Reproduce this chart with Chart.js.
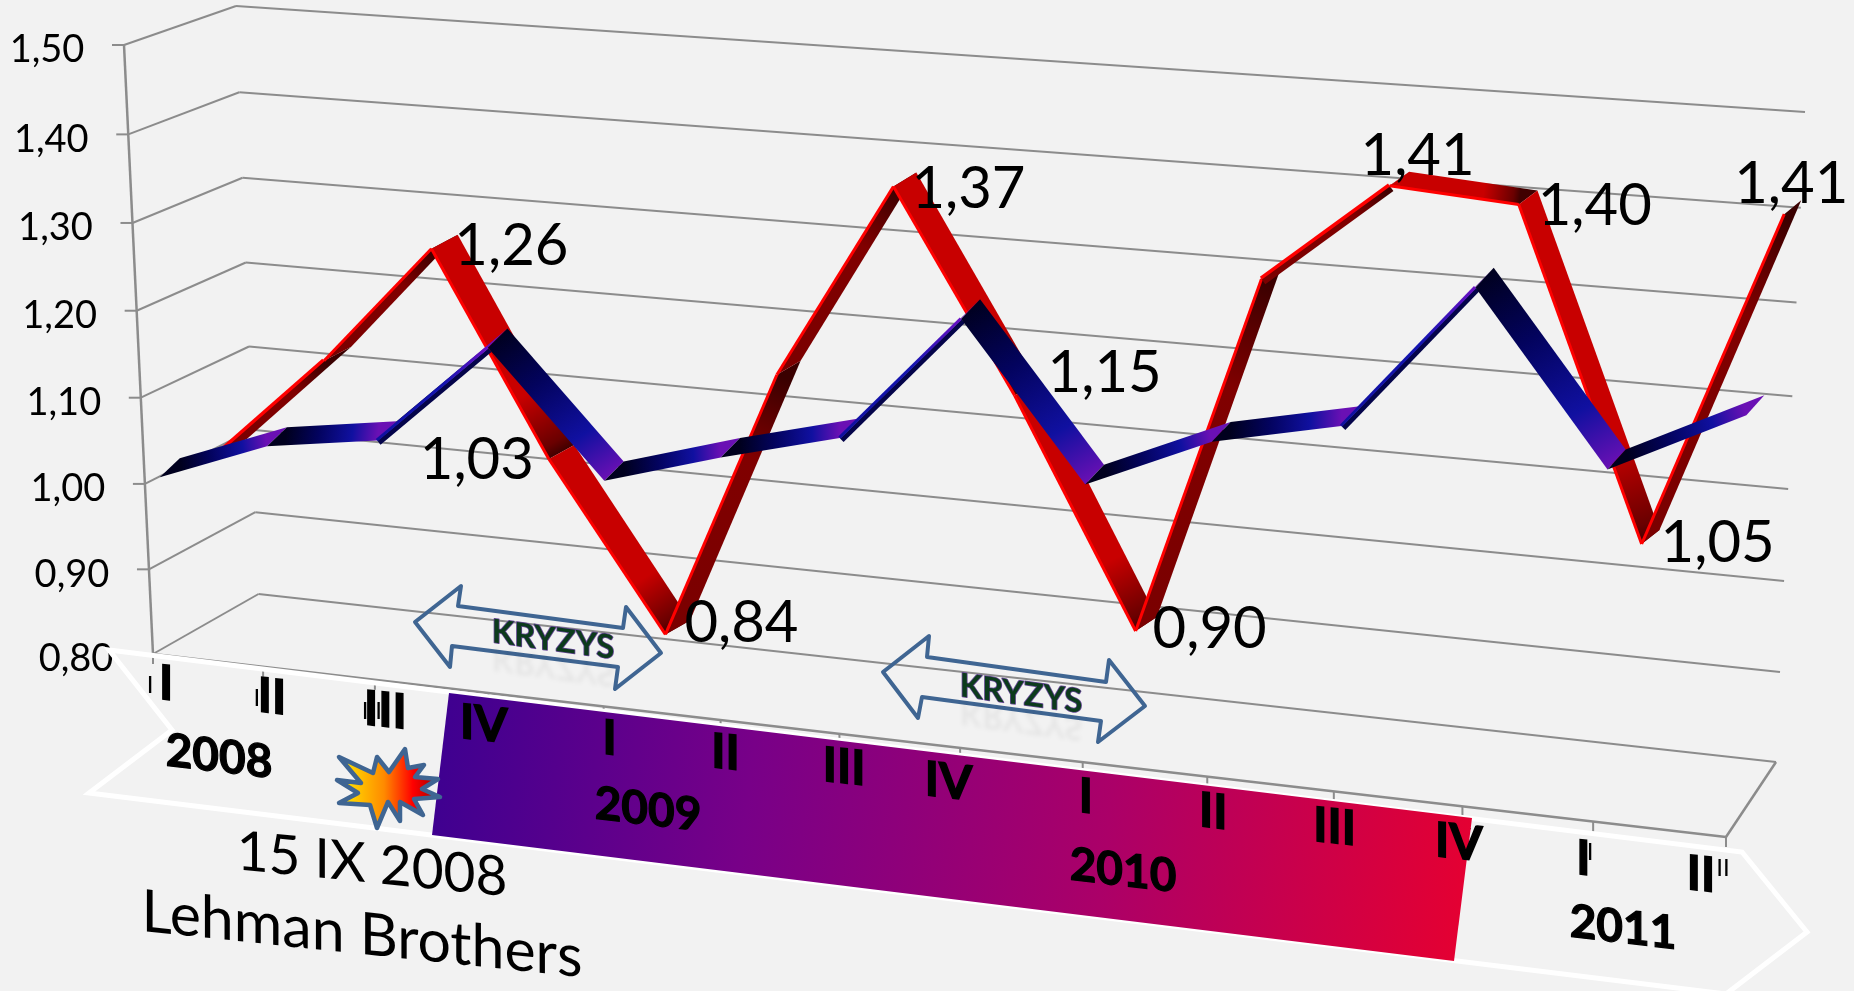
<!DOCTYPE html>
<html>
<head>
<meta charset="utf-8">
<title>Kryzys</title>
<script src="https://cdn.jsdelivr.net/npm/chart.js@4"></script>
<style>
  html, body { margin: 0; padding: 0; background: #f2f2f2; overflow: hidden; }
  canvas { display: block; }
</style>
</head>
<body>
<canvas id="kryzys" width="1854" height="991"></canvas>
<script>
const quarters = ['I','II','III','IV','I','II','III','IV','I','II','III','IV','I','II'];
const years = ['2008','2009','2010','2011'];
const yTicks = ['0,80','0,90','1,00','1,10','1,20','1,30','1,40','1,50'];
const redValues = [1.00,1.12,1.26,1.03,0.84,1.15,1.37,1.15,0.90,1.30,1.41,1.40,1.05,1.41];
const blueValues = [1.00,1.05,1.07,1.19,1.05,1.09,1.125,1.27,1.10,1.16,1.19,1.35,1.17,1.24];
const redLabels = [null,null,'1,26','1,03','0,84',null,'1,37','1,15','0,90',null,'1,41','1,40','1,05','1,41'];

// offsets of the data labels from their point
const labelOffsets = {2:[80,-2],3:[-72,1],4:[76,-11],6:[75,3],7:[90,-22],8:[74,-2],10:[28,-30],11:[76,2],12:[76,-1],13:[7,-30]};
const quarterNudge = [-4,-5,0,-12,2,4,7,-6,12,18,16,15,12,0];
const yearPos = [[219,757],[648,810],[1123,871],[1623,928]];

// perspective planes, [bottom-left, bottom-right, top-right, top-left]
const backWall = [[258.5,594],[1776,762],[1805,112],[236,6]];
const frontWall = [[153,654],[1726,837],[1750,167],[124,45]];
const redPlane = [[225,621],[1766,788],[1787,127],[203,22]];
const bluePlane = [[164,644],[1737,832],[1752,164],[149,53]];
const redDepth = [[28,-14],[17,-14]];
const blueDepth = [[20,-19],[18,-20]];

const quadMap = (q) => {
    const [[x0,y0],[x1,y1],[x2,y2],[x3,y3]] = q;
    const dx1 = x1-x2, dx2 = x3-x2, sx = x0-x1+x2-x3;
    const dy1 = y1-y2, dy2 = y3-y2, sy = y0-y1+y2-y3;
    const den = dx1*dy2-dx2*dy1;
    const g = (sx*dy2-dx2*sy)/den, h = (dx1*sy-sx*dy1)/den;
    const a = x1-x0+g*x1, b = x3-x0+h*x3, d = y1-y0+g*y1, e = y3-y0+h*y3;
    return (s,t) => {
        const k = g*s+h*t+1;
        return [(a*s+b*t+x0)/k, (d*s+e*t+y0)/k];
    };
};

const line = (ctx, a, b, color, width) => {
    ctx.strokeStyle = color;
    ctx.lineWidth = width;
    ctx.beginPath();
    ctx.moveTo(a[0],a[1]);
    ctx.lineTo(b[0],b[1]);
    ctx.stroke();
};

const poly = (ctx, pts) => {
    ctx.beginPath();
    pts.forEach((p,i) => i ? ctx.lineTo(p[0],p[1]) : ctx.moveTo(p[0],p[1]));
    ctx.closePath();
};

const shearText = (ctx, text, x, y, font, slope, heavy) => {
    ctx.save();
    ctx.transform(1, slope, 0, 1, x, y);
    ctx.font = font;
    ctx.fillStyle = '#000';
    ctx.textAlign = 'center';
    ctx.textBaseline = 'middle';
    ctx.fillText(text, 0, 0);
    if (heavy) {
        ctx.strokeStyle = '#000';
        ctx.lineWidth = heavy;
        ctx.strokeText(text, 0, 0);
    }
    ctx.restore();
};

const doubleArrow1 = [[415,622],[461,586],[458,606],[623,628],[626,607],[661,653],[615,689],[618,667],[452,646],[450,667]];
const doubleArrow2 = [[883,672],[929,636],[927,657],[1106,682],[1109,660],[1145,706],[1098,742],[1101,721],[922,697],[918,718]];
const star = [[339,757],[373,773],[377,757],[389,772],[405,749],[408,768],[424,765],[415,777],[438,779],[422,789],[440,797],[414,799],[423,815],[400,802],[400,821],[388,802],[377,828],[370,805],[339,803],[358,793],[337,780],[361,783]];

// normalised position of a value on the library's scales
const norm = (chart, px, py) => {
    const sx = chart.scales.x, sy = chart.scales.y;
    return [(px-sx.left)/(sx.right-sx.left), (sy.bottom-py)/(sy.bottom-sy.top)];
};

const drawRibbon = (chart, ctx, metaIndex, plane, depth, shade) => {
    const map = quadMap(plane);
    const pts = chart.getDatasetMeta(metaIndex).data.map(el => {
        const n = norm(chart, el.x, el.y);
        const p = map(n[0], n[1]);
        const d = [depth[0][0]+(depth[1][0]-depth[0][0])*n[0], depth[0][1]+(depth[1][1]-depth[0][1])*n[0]];
        return {p, q:[p[0]+d[0], p[1]+d[1]], d};
    });
    for (let i = 0; i < pts.length-1; i++) shade(ctx, pts[i], pts[i+1]);
    return pts;
};

// side of a ribbon that runs almost along its own depth
const thinSide = (a, b, limit) => {
    const dx = b.p[0]-a.p[0], dy = b.p[1]-a.p[1], len = Math.hypot(dx,dy);
    const thick = Math.abs(dx*a.d[1]-dy*a.d[0])/len;
    const n = [-dy/len, dx/len];
    return { thin: thick < limit, n };
};

const offset = (p, n, k) => [p[0]+n[0]*k, p[1]+n[1]*k];

const shadeRed = (ctx, a, b) => {
    const falling = b.p[1] > a.p[1];
    const g = ctx.createLinearGradient(a.p[0],a.p[1],b.p[0],b.p[1]);
    if (falling) {
        g.addColorStop(0,'#c80000'); g.addColorStop(0.72,'#c80000');
        g.addColorStop(0.95,'#6a0000'); g.addColorStop(1,'#400000');
    } else {
        g.addColorStop(0,'#7a0000'); g.addColorStop(0.7,'#800000'); g.addColorStop(1,'#3a0000');
    }
    ctx.fillStyle = g;
    poly(ctx,[a.p,a.q,b.q,b.p]);
    ctx.fill();
    const side = thinSide(a,b,9);
    if (side.thin) {
        line(ctx,offset(a.p,side.n,3),offset(b.p,side.n,3),g,7);
        line(ctx,offset(a.p,side.n,-1),offset(b.p,side.n,-1),'#ff0000',3.5);
    } else {
        line(ctx,a.p,b.p,'#ff0000',3);
    }
};

const shadeBlue = (ctx, a, b) => {
    const g = ctx.createLinearGradient(a.q[0],a.q[1],b.p[0],b.p[1]);
    g.addColorStop(0,'#00001e'); g.addColorStop(0.35,'#03035e');
    g.addColorStop(0.72,'#1010a0'); g.addColorStop(1,'#6a10b4');
    ctx.fillStyle = g;
    poly(ctx,[a.p,a.q,b.q,b.p]);
    ctx.fill();
    const side = thinSide(a,b,5);
    if (side.thin) {
        const t = ctx.createLinearGradient(a.p[0],a.p[1],b.p[0],b.p[1]);
        t.addColorStop(0,'#1010a0'); t.addColorStop(0.6,'#1414b0'); t.addColorStop(1,'#6a10c4');
        line(ctx,offset(a.p,side.n,3),offset(b.p,side.n,3),'#04044a',5);
        line(ctx,offset(a.p,side.n,-0.5),offset(b.p,side.n,-0.5),t,3);
    }
};

const sketch = {
    id: 'sketch',
    beforeDatasetsDraw(chart) {
        const ctx = chart.ctx;
        const sx = chart.scales.x, sy = chart.scales.y;
        const back = quadMap(backWall), front = quadMap(frontWall);
        ctx.save();
        ctx.lineCap = 'butt';
        const grid = '#8c8c8c';
        // walls, floor and their tick marks
        sy.ticks.forEach((tick) => {
            const w = norm(chart, sx.left, sy.getPixelForValue(tick.value))[1];
            const f = front(0,w), bl = back(0,w), br = back(1,w);
            line(ctx,f,bl,grid,2);
            line(ctx,bl,br,grid,2);
            line(ctx,[f[0]-12,f[1]],f,grid,2);
            shearText(ctx,tick.label,f[0]-77,f[1]+5,'38px Lato',0);
        });
        line(ctx,front(0,0),front(0,1),grid,2.5);
        line(ctx,front(0,0),front(1,0),grid,2.5);
        line(ctx,front(1,0),back(1,0),grid,2.5);
        sx.ticks.forEach((tick,i) => {
            const u = norm(chart, sx.getPixelForTick(i), sy.bottom)[0];
            const p = front(u,0);
            line(ctx,p,[p[0],p[1]+10],grid,2);
            shearText(ctx,tick.label,p[0]-3,p[1]+31,'24px Lato',0);
        });

        // date band
        ctx.strokeStyle = '#ffffff';
        ctx.lineWidth = 5;
        ctx.lineJoin = 'miter';
        poly(ctx,[[109,650],[1742,852],[1807,932],[1726,994],[89,793],[172,730]]);
        ctx.stroke();
        const g = ctx.createLinearGradient(440,765,1465,890);
        g.addColorStop(0,'#3f0090'); g.addColorStop(0.3,'#780088');
        g.addColorStop(0.65,'#ab0068'); g.addColorStop(1,'#e40032');
        ctx.fillStyle = g;
        poly(ctx,[[449,693],[1472,818],[1454,961],[432,835]]);
        ctx.fill();

        // date labels
        sx.ticks.forEach((tick,i) => {
            const u = norm(chart, sx.getPixelForTick(i), sy.bottom)[0];
            const p = front(u,0);
            const shift = 17-42*u;
            shearText(ctx,tick.label,p[0]+shift+quarterNudge[i],p[1]+30+8*u,'bold 48px Lato',0.11,1.5);
        });
        years.forEach((y,i) => shearText(ctx,y,yearPos[i][0],yearPos[i][1],'bold 46px Lato',0.12,1.2));

        shearText(ctx,'15 IX 2008',372,865,'55px Lato',0.1);
        shearText(ctx,'Lehman Brothers',362,935,'59px Lato',0.105);

        // explosion
        const sg = ctx.createLinearGradient(345,785,432,785);
        sg.addColorStop(0,'#ffe000'); sg.addColorStop(0.45,'#ff8a00');
        sg.addColorStop(0.78,'#ff0000'); sg.addColorStop(1,'#b80000');
        ctx.fillStyle = sg;
        poly(ctx,star);
        ctx.fill();
        ctx.strokeStyle = '#3f6592';
        ctx.lineWidth = 4.5;
        ctx.lineJoin = 'round';
        ctx.stroke();

        // crisis arrows
        [[doubleArrow1,553,640],[doubleArrow2,1021,694]].forEach(([arrow,x,y]) => {
            ctx.strokeStyle = '#3f6592';
            ctx.lineWidth = 4;
            ctx.lineJoin = 'round';
            poly(ctx,arrow);
            ctx.stroke();
            ctx.save();
            ctx.transform(1,0.135,0,1,x,y);
            ctx.font = 'bold 33px Lato';
            ctx.textAlign = 'center';
            ctx.textBaseline = 'middle';
            ctx.save();
            ctx.translate(0,26);
            ctx.scale(1,-1);
            ctx.filter = 'blur(2px)';
            ctx.globalAlpha = 0.05;
            ctx.fillStyle = '#000';
            ctx.fillText('KRYZYS',0,0);
            ctx.restore();
            ctx.strokeStyle = '#6a4a9a';
            ctx.lineWidth = 1.5;
            ctx.strokeText('KRYZYS',0,0);
            ctx.fillStyle = '#0c3a1c';
            ctx.fillText('KRYZYS',0,0);
            ctx.restore();
        });
        ctx.restore();
    },
    afterDatasetsDraw(chart) {
        const ctx = chart.ctx;
        ctx.save();
        const red = drawRibbon(chart,ctx,0,redPlane,redDepth,shadeRed);
        drawRibbon(chart,ctx,1,bluePlane,blueDepth,shadeBlue);
        redLabels.forEach((text,i) => {
            if (!text) return;
            const off = labelOffsets[i];
            shearText(ctx,text,red[i].p[0]+off[0],red[i].p[1]+off[1],'58px Lato',0);
        });
        ctx.restore();
    }
};

new Chart(document.getElementById('kryzys').getContext('2d'), {
    type: 'line',
    data: {
        labels: quarters,
        datasets: [
            { label: 'czerwona', data: redValues, showLine: false, pointRadius: 0, borderColor: '#ff0000' },
            { label: 'niebieska', data: blueValues, showLine: false, pointRadius: 0, borderColor: '#1010a0' }
        ]
    },
    options: {
        responsive: false,
        animation: false,
        layout: { padding: 0 },
        plugins: { legend: { display: false }, tooltip: { enabled: false } },
        scales: {
            x: { ticks: { display: false }, grid: { display: false }, border: { display: false } },
            y: {
                min: 0.8, max: 1.5,
                ticks: { display: false, stepSize: 0.1, callback: (v) => yTicks[Math.round((v-0.8)*10)] },
                grid: { display: false }, border: { display: false }
            }
        }
    },
    plugins: [sketch]
});
</script>
</body>
</html>
